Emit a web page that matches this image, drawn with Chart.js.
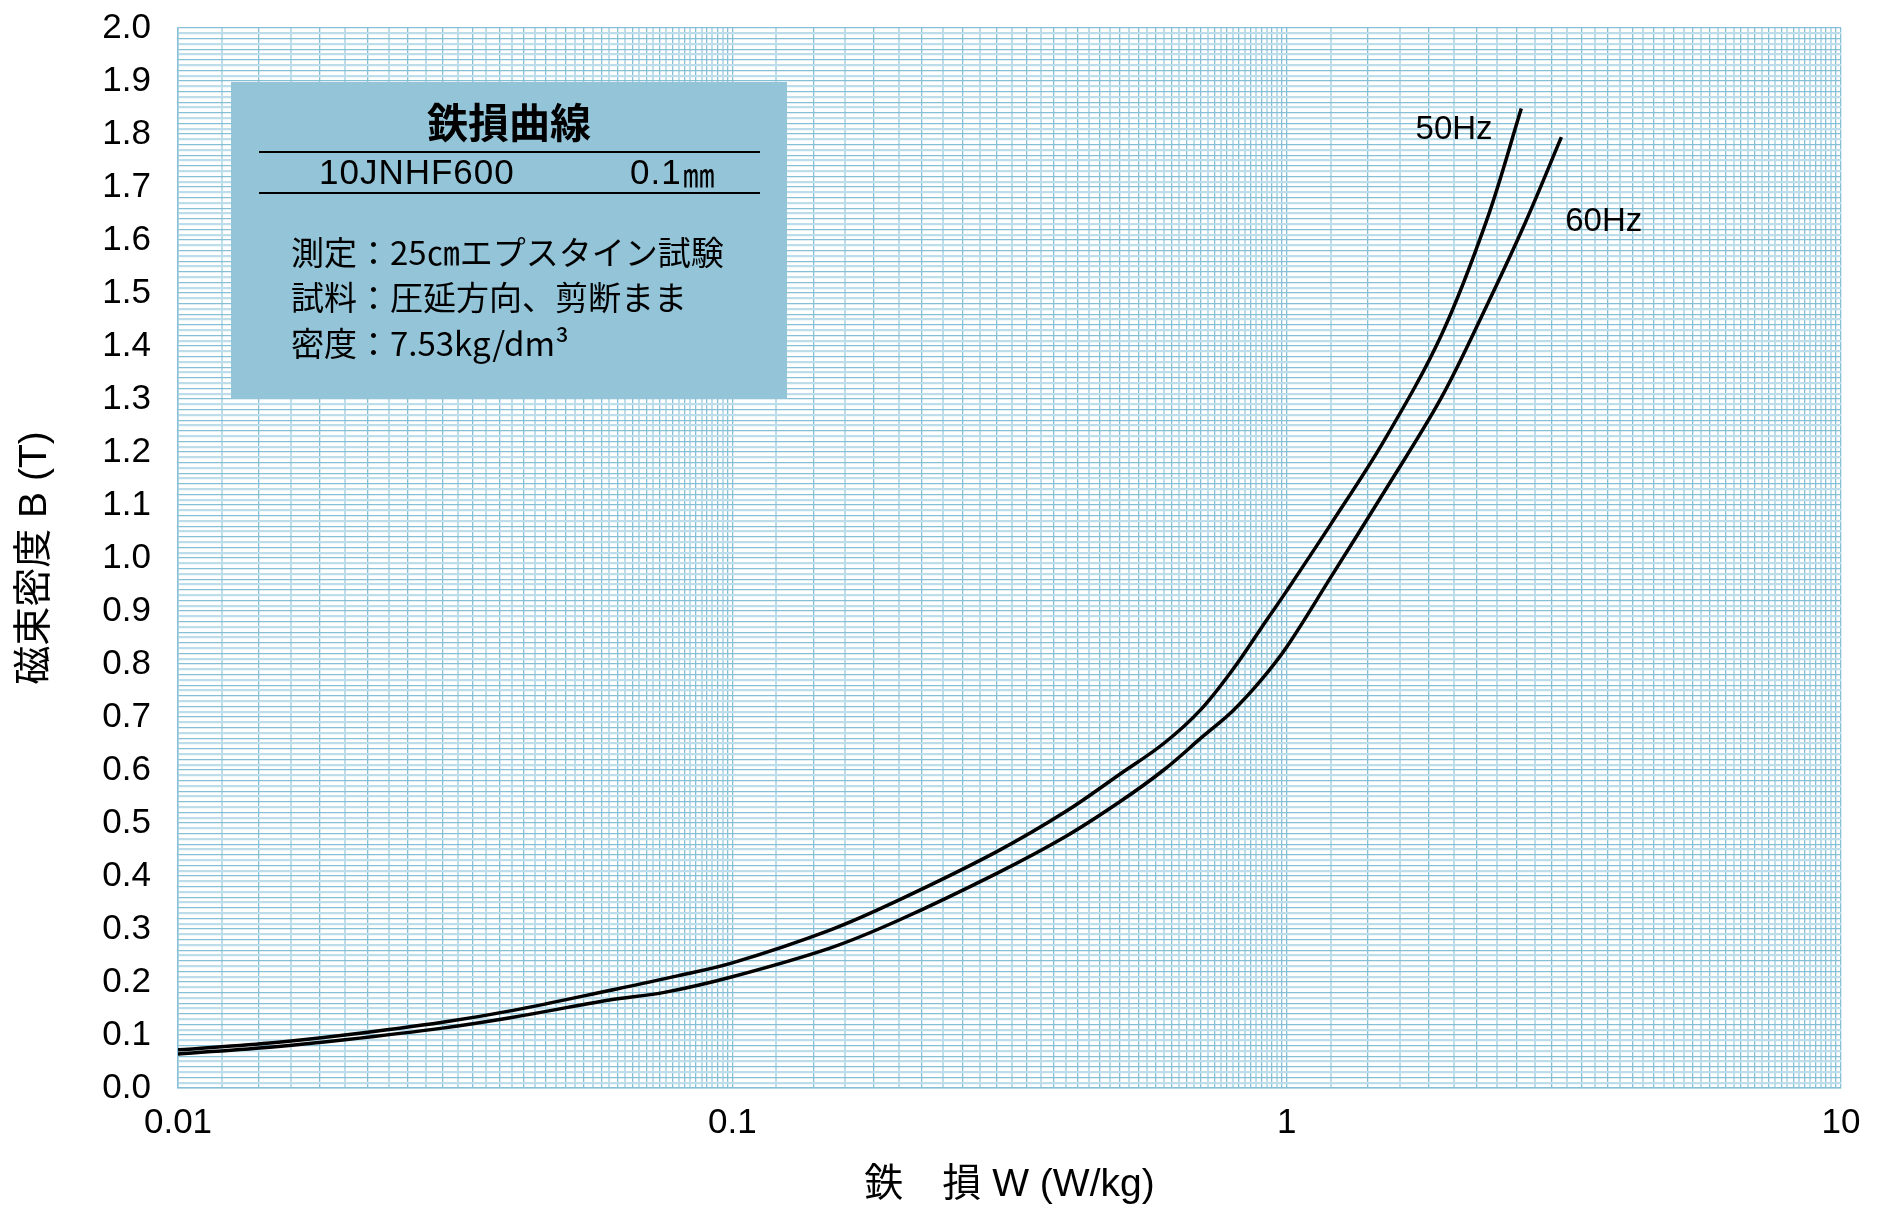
<!DOCTYPE html>
<html>
<head>
<meta charset="utf-8">
<script src="https://cdn.jsdelivr.net/npm/chart.js@4.4.1/dist/chart.umd.min.js"></script>
<style>
  html, body { margin: 0; padding: 0; background: #fff; }
  #wrap { width: 1883px; height: 1211px; }
</style>
</head>
<body>
<div id="wrap"><canvas id="chart_loss"></canvas></div>
<script>
// 50Hz curve: iron loss W (W/kg) vs flux density B (T)
const loss50 = [0.01, 0.015, 0.02, 0.03, 0.04, 0.06, 0.08, 0.1, 0.15, 0.2, 0.3, 0.4, 0.5, 0.6, 0.7, 0.8, 0.9, 1.0, 1.2, 1.5, 1.9, 2.3, 2.65];
const flux50 = [0.072, 0.086, 0.100, 0.124, 0.146, 0.184, 0.212, 0.236, 0.298, 0.355, 0.446, 0.522, 0.592, 0.650, 0.714, 0.790, 0.868, 0.938, 1.063, 1.222, 1.420, 1.640, 1.848];

// 60Hz curve
const loss60 = [0.01, 0.015, 0.02, 0.03, 0.04, 0.06, 0.075, 0.1, 0.15, 0.2, 0.3, 0.4, 0.5, 0.6, 0.7, 0.8, 0.9, 1.0, 1.2, 1.5, 1.9, 2.3, 2.7, 3.13];
const flux60 = [0.064, 0.078, 0.091, 0.113, 0.133, 0.166, 0.180, 0.210, 0.264, 0.317, 0.405, 0.475, 0.540, 0.600, 0.660, 0.712, 0.770, 0.832, 0.963, 1.125, 1.302, 1.478, 1.635, 1.794];

const seriesNames = ['50Hz', '60Hz'];
const xTickLabels = [0.01, 0.1, 1, 10];
const yTickLabels = ['0.0', '0.1', '0.2', '0.3', '0.4', '0.5', '0.6', '0.7', '0.8', '0.9', '1.0',
                     '1.1', '1.2', '1.3', '1.4', '1.5', '1.6', '1.7', '1.8', '1.9', '2.0'];

const FONT = "'Liberation Sans', 'Noto Sans CJK JP', sans-serif";
const CJK = "'Noto Sans CJK JP', sans-serif";
const GRID_DARK = '#86c0d6';
const GRID_LIGHT = '#bcdde9';

// graph-paper grid: 0.01 steps on B, 0.2 mantissa steps on W
const yGrid = Array.from({ length: 201 }, (_, i) => i / 100);
const xGrid = [];
[0.01, 0.1, 1].forEach(d => {
    for (let k = 0; k < 45; k++) xGrid.push(Math.round(d * (10 + 2 * k) / 10 * 1e6) / 1e6);
});
xGrid.push(10);

// info box + curve labels
const annotations = {
    id: 'annotations',
    beforeDatasetsDraw(chart) {
        const { ctx, chartArea: a } = chart;
        const left = a.left + 53, top = a.top + 54, w = 556, h = 317;
        ctx.save();
        ctx.fillStyle = '#93c4d8';
        ctx.fillRect(left, top, w, h);

        ctx.fillStyle = '#000';
        ctx.textBaseline = 'middle';
        ctx.textAlign = 'center';
        ctx.font = `bold 41px ${CJK}`;
        ctx.fillText('鉄損曲線', left + w / 2, top + 40);

        ctx.strokeStyle = '#000';
        ctx.lineWidth = 2;
        [70, 111].forEach(yy => {
            ctx.beginPath();
            ctx.moveTo(left + 28, top + yy);
            ctx.lineTo(left + 529, top + yy);
            ctx.stroke();
        });

        ctx.textAlign = 'left';
        ctx.font = `35px ${FONT}`;
        ctx.letterSpacing = '1px';
        ctx.fillText('10JNHF600', left + 88, top + 92);
        ctx.fillText('0.1', left + 399, top + 92);
        ctx.letterSpacing = '0px';
        const w01 = ctx.measureText('0.1').width + 4;
        ctx.font = `32px ${CJK}`;
        ctx.fillText('㎜', left + 399 + w01, top + 93);

        ctx.font = `33px ${CJK}`;
        ctx.fillText('測定：25㎝エプスタイン試験', left + 60, top + 170);
        ctx.fillText('試料：圧延方向、剪断まま', left + 60, top + 215);
        ctx.fillText('密度：7.53kg/dm³', left + 60, top + 261);
        ctx.restore();
    },
    afterDatasetsDraw(chart) {
        const { ctx, scales: { x, y } } = chart;
        ctx.save();
        ctx.fillStyle = '#000';
        ctx.font = `33px ${FONT}`;
        ctx.textAlign = 'left';
        ctx.textBaseline = 'middle';
        ctx.fillText(seriesNames[0], x.getPixelForValue(1.708), y.getPixelForValue(1.808));
        ctx.fillText(seriesNames[1], x.getPixelForValue(3.18), y.getPixelForValue(1.634));
        ctx.restore();
    }
};

const canvas = document.getElementById('chart_loss');

new Chart(canvas, {
    type: 'line',
    data: {
        datasets: [
            {
                label: seriesNames[0],
                data: loss50.map((w, i) => ({ x: w, y: flux50[i] })),
            },
            {
                label: seriesNames[1],
                data: loss60.map((w, i) => ({ x: w, y: flux60[i] })),
            },
        ].map(ds => Object.assign(ds, {
            borderColor: '#000',
            borderWidth: 3.5,
            pointRadius: 0,
            fill: false,
            tension: 0.35,
        })),
    },
    options: {
        responsive: true,
        maintainAspectRatio: false,
        animation: false,
        layout: { padding: { top: 28, right: 42, left: 0, bottom: 0 } },
        plugins: {
            legend: { display: false },
            tooltip: { enabled: false },
        },
        scales: {
            x: {
                type: 'logarithmic',
                min: 0.01,
                max: 10,
                afterBuildTicks: scale => { scale.ticks = xGrid.map(v => ({ value: v })); },
                afterFit: scale => {
                    scale.height = 123;
                    scale.paddingLeft = 0;
                    scale.paddingRight = 0;
                },
                ticks: {
                    autoSkip: false,
                    maxRotation: 0,
                    padding: 14,
                    color: '#000',
                    font: { family: FONT, size: 35 },
                    callback: (value) => {
                        const m = xTickLabels.find(t => Math.abs(t - value) / t < 1e-6);
                        return m === undefined ? '' : String(m);
                    },
                },
                grid: {
                    drawTicks: false,
                    color: ctx => (ctx.index % 45) % 2 === 0 ? GRID_DARK : GRID_LIGHT,
                    lineWidth: ctx => (ctx.index % 45) % 2 === 0 ? 1.3 : 2,
                },
                border: { display: true, color: GRID_DARK, width: 1.5 },
                title: {
                    display: true,
                    text: '鉄　損 W (W/kg)',
                    color: '#000',
                    font: { family: FONT, size: 39 },
                    padding: { top: 0, bottom: 2 },
                },
            },
            y: {
                type: 'linear',
                min: 0,
                max: 2,
                afterBuildTicks: scale => { scale.ticks = yGrid.map(v => ({ value: v })); },
                afterFit: scale => {
                    scale.width = 178;
                    scale.paddingTop = 0;
                    scale.paddingBottom = 0;
                },
                ticks: {
                    autoSkip: false,
                    padding: 27,
                    color: '#000',
                    font: { family: FONT, size: 35 },
                    callback: (value, index) => index % 10 === 0 ? yTickLabels[index / 10] : '',
                },
                grid: {
                    drawTicks: false,
                    color: ctx => ctx.index % 2 === 0 ? GRID_DARK : GRID_LIGHT,
                    lineWidth: ctx => ctx.index % 2 === 0 ? 1.2 : 2.2,
                },
                border: { display: true, color: GRID_DARK, width: 1.5 },
                title: {
                    display: true,
                    text: '磁束密度 B (T)',
                    color: '#000',
                    font: { family: FONT, size: 39 },
                    padding: { top: 12, bottom: 0 },
                },
            },
        },
    },
    plugins: [annotations],
});
</script>
</body>
</html>
